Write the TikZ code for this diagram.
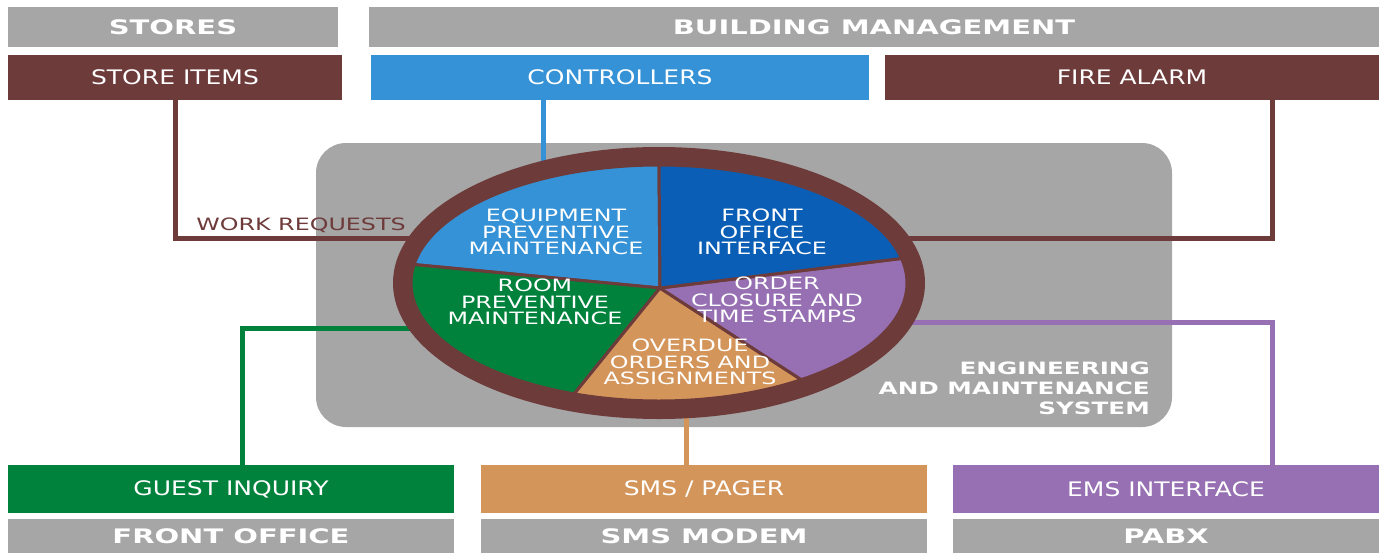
\documentclass[tikz,border=0pt]{standalone}
\usepackage{fontspec}
\setmainfont{DejaVu Sans}
\newfontfamily\hdrfont[FakeStretch=1.45]{DejaVu Sans}
\newfontfamily\tabfont[FakeStretch=1.25]{DejaVu Sans}
\newfontfamily\piefont[FakeStretch=1.4]{DejaVu Sans}
\usepackage{tikz}
\usetikzlibrary{shapes.geometric}

\definecolor{boxgray}{HTML}{A6A6A6}
\definecolor{wine}{HTML}{6E3B3B}
\definecolor{skyblue}{HTML}{3592D6}
\definecolor{deepblue}{HTML}{0B5EB5}
\definecolor{leafgreen}{HTML}{00823C}
\definecolor{sand}{HTML}{D4955A}
\definecolor{lilac}{HTML}{9670B2}

\begin{document}
\begin{tikzpicture}[x=1pt,y=1pt,
    hdr/.style={fill=boxgray,text=white,inner sep=0pt,minimum height=40pt,
                font=\hdrfont\bfseries\fontsize{20}{22}\selectfont},
    tab/.style={text=white,inner sep=0pt,minimum height=45pt,
                font=\tabfont\fontsize{20}{24}\selectfont},
    pietext/.style={text=white,align=center,inner sep=0pt,
                font=\piefont\fontsize{17}{16.8}\selectfont},
    link/.style={line width=5pt}]
\useasboundingbox (0,0) rectangle (1379,-552);

% top rows
\node[hdr,minimum width=330pt] (stores) at (173,-27) {STORES};
\node[hdr,minimum width=1010pt] (bldg) at (874,-27) {BUILDING MANAGEMENT};
\node[tab,fill=wine,minimum width=334pt] (items) at (175,-77.5) {STORE ITEMS};
\node[tab,fill=skyblue,minimum width=498pt] (ctrl) at (620,-77.5) {CONTROLLERS};
\node[tab,fill=wine,minimum width=494pt] (fire) at (1132,-77.5) {FIRE ALARM};

% bottom rows
\node[tab,fill=leafgreen,minimum width=446pt,minimum height=48pt] (guest) at (231,-489) {GUEST INQUIRY};
\node[tab,fill=sand,minimum width=446pt,minimum height=48pt] (sms) at (704,-489) {SMS / PAGER};
\node[tab,fill=lilac,minimum width=426pt,minimum height=48pt] (ems) at (1166,-489) {EMS INTERFACE};
\node[hdr,minimum width=446pt,minimum height=34pt] (fo) at (231,-536) {FRONT OFFICE};
\node[hdr,minimum width=446pt,minimum height=34pt] (modem) at (704,-536) {SMS MODEM};
\node[hdr,minimum width=426pt,minimum height=34pt] (pabx) at (1166,-536) {PABX};

% system panel
\node[fill=boxgray,rounded corners=30pt,minimum width=856pt,minimum height=284pt,inner sep=0pt] (core) at (744,-285) {};
\node[anchor=east,align=right,text=white,inner sep=0pt,
      font=\hdrfont\bfseries\fontsize{17}{20}\selectfont] (emsys) at (1150,-388)
      {ENGINEERING\\AND MAINTENANCE\\SYSTEM};

% connectors
\coordinate (wrin) at (420,-238);
\coordinate (eqin) at (543,-185);
\coordinate (fadrop) at (1272,-238);
\coordinate (fain) at (900,-238);
\coordinate (gqin) at (420,-328);
\coordinate (smsin) at (686,-400);
\coordinate (emsdrop) at (1272,-322);
\coordinate (emsin) at (880,-322);

\draw[link,wine] (items.south) |- (wrin);
\draw[link,skyblue] (eqin |- ctrl.south) -- (eqin);
\draw[link,wine] (fire.south -| fadrop) -- (fadrop) -- (fain);
\draw[link,leafgreen] (guest.north -| 242,0) |- (gqin);
\draw[link,sand] (sms.north -| smsin) -- (smsin);
\draw[link,lilac] (ems.north -| emsdrop) -- (emsdrop) -- (emsin);
\node[text=wine,inner sep=0pt,font=\piefont\fontsize{17}{20}\selectfont] (wr) at (301,-225) {WORK REQUESTS};

% pie
\node[ellipse,fill=wine,minimum width=532pt,minimum height=272pt,inner sep=0pt] (ring) at (659,-283) {};
\coordinate (ctr) at (659,-283);
\coordinate (apex) at (660,-288);
\foreach \a/\b/\c in {90/171/skyblue, 171/250/leafgreen, 250/305/sand, 305/372/lilac, 12/90/deepblue}
  \filldraw[fill=\c,draw=wine,line width=3pt,line join=round]
    (apex) -- ([shift={(\a:248 and 118)}]ctr)
    arc[start angle=\a,end angle=\b,x radius=248,y radius=118] -- cycle;

\node[pietext] (equip) at (556,-232) {EQUIPMENT\\PREVENTIVE\\MAINTENANCE};
\node[pietext] (foi) at (762,-232) {FRONT\\OFFICE\\INTERFACE};
\node[pietext] (room) at (535,-302) {ROOM\\PREVENTIVE\\MAINTENANCE};
\node[pietext] (order) at (777,-300) {ORDER\\CLOSURE AND\\TIME STAMPS};
\node[pietext] (overdue) at (690,-362) {OVERDUE\\ORDERS AND\\ASSIGNMENTS};

\end{tikzpicture}
\end{document}
